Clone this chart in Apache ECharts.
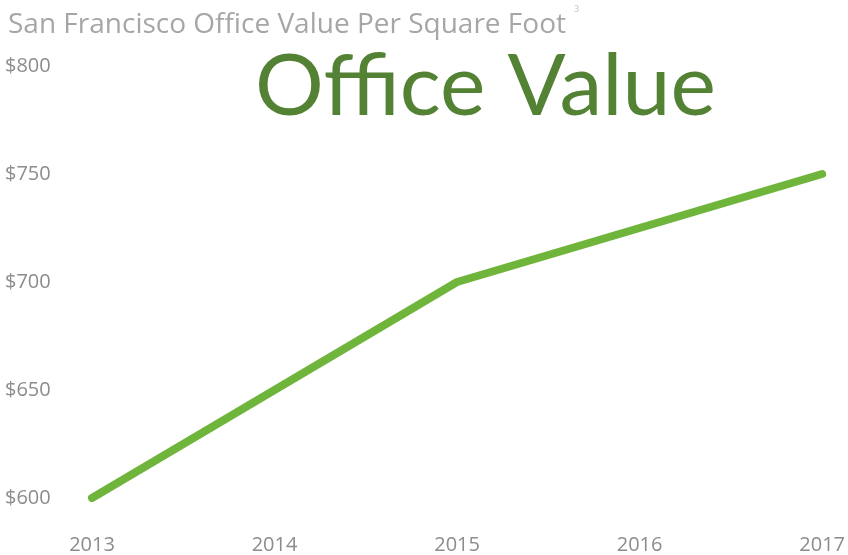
<!DOCTYPE html>
<html>
<head>
<meta charset="utf-8">
<script src="https://cdn.jsdelivr.net/npm/echarts@6/dist/echarts.min.js"></script>
<style>
  html, body { margin: 0; padding: 0; background: #fff; }
  #chart { width: 848px; height: 555px; }
</style>
</head>
<body>
<div id="chart"></div>
<script>
// data
const years = ['2013', '2014', '2015', '2016', '2017']
const valuePerSqFt = [600, 650, 700, 725, 750]
const yTicks = [600, 650, 700, 750, 800]

const chart = echarts.init(document.getElementById('chart'))
chart.setOption({
  animation: false,
  title: {
    text: '{t|San Francisco Office Value Per Square Foot}{s|3}',
    left: 3,
    top: 0,
    textStyle: {
      rich: {
        t: { fontFamily: 'Open Sans', fontSize: 28, fontWeight: 'normal', color: '#a6a6a6', verticalAlign: 'bottom' },
        s: { fontFamily: 'Open Sans', fontSize: 9, fontWeight: 'normal', color: '#bfbfbf', padding: [0, 0, 25, 8] }
      }
    }
  },
  graphic: [{
    type: 'text',
    left: 255,
    top: 44,
    style: {
      text: 'Office Value',
      font: '86px Lato',
      fill: '#548235'
    }
  }],
  grid: { left: 92, right: 22, top: 66, bottom: 57 },
  xAxis: {
    type: 'category',
    data: years,
    boundaryGap: false,
    axisLine: { show: false },
    axisTick: { show: false },
    axisLabel: { margin: 37, fontFamily: 'Open Sans', fontSize: 20, color: '#8c8c8c' }
  },
  yAxis: {
    type: 'value',
    min: yTicks[0],
    max: yTicks[yTicks.length - 1],
    interval: 50,
    splitLine: { show: false },
    axisLine: { show: false },
    axisTick: { show: false },
    axisLabel: {
      align: 'left',
      margin: 87,
      fontFamily: 'Open Sans',
      fontSize: 20,
      color: '#8c8c8c',
      formatter: v => '$' + v
    }
  },
  series: [{
    type: 'line',
    data: valuePerSqFt,
    symbol: 'none',
    lineStyle: { color: '#70b53b', width: 8, cap: 'round', join: 'round' }
  }]
})
</script>
</body>
</html>
